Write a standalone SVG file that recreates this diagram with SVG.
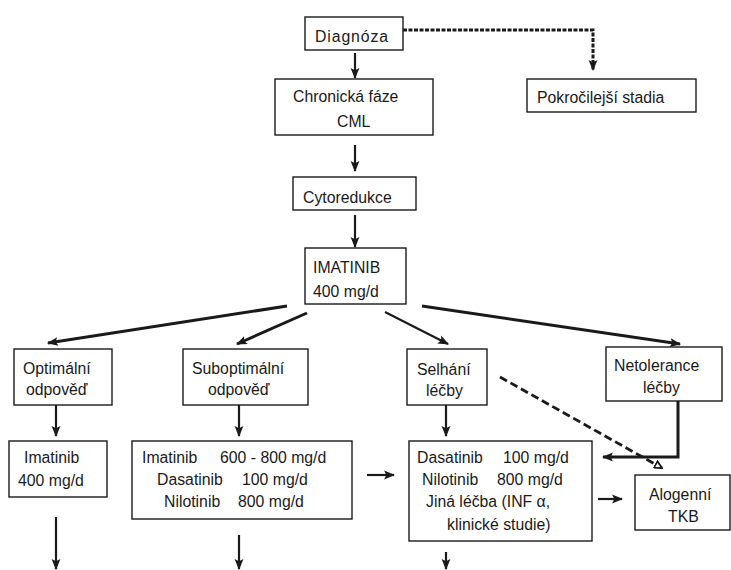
<svg xmlns="http://www.w3.org/2000/svg" width="731" height="570" viewBox="0 0 731 570">
<defs>
<style>
.box{fill:#fff;stroke:#1a1a1a;stroke-width:1.4}
text{font-family:"Liberation Sans",Arial,sans-serif;font-size:15.8px;fill:#1a1a1a}
.c{stroke:#1a1a1a;fill:none;stroke-width:2.2}
.t{stroke-width:3}
.d{stroke-dasharray:8,4;stroke-width:2.8}
.dd{stroke-dasharray:4,1.5;stroke-width:3}
</style>
<marker id="a" viewBox="0 0 10 10" refX="9" refY="5" markerWidth="11" markerHeight="11" markerUnits="userSpaceOnUse" orient="auto">
<path d="M0,1 L10,5 L0,9 L2,5 z" fill="#1a1a1a"/>
</marker>
<marker id="o" viewBox="0 0 10 10" refX="9" refY="5" markerWidth="9" markerHeight="9" markerUnits="userSpaceOnUse" orient="auto">
<path d="M1,1 L9,5 L1,9 z" fill="#fff" stroke="#1a1a1a" stroke-width="2"/>
</marker>
</defs>

<g id="connectors">
<polyline class="c dd" points="403,30 593,30 593,70" marker-end="url(#a)"/>
<line class="c" x1="355" y1="53" x2="355" y2="78" marker-end="url(#a)"/>
<line class="c" x1="355" y1="145" x2="355" y2="171" marker-end="url(#a)"/>
<line class="c" x1="355" y1="215" x2="355" y2="247" marker-end="url(#a)"/>
<line class="c t" x1="287" y1="306" x2="48" y2="343" marker-end="url(#a)"/>
<line class="c t" x1="307" y1="313" x2="237" y2="344" marker-end="url(#a)"/>
<line class="c" x1="385" y1="312" x2="448" y2="344" marker-end="url(#a)"/>
<line class="c t" x1="422" y1="306" x2="680" y2="344" marker-end="url(#a)"/>
<line class="c d" x1="500" y1="377" x2="662" y2="468" marker-end="url(#o)"/>
<polyline class="c t" points="678,401 678,457 603,457" marker-end="url(#a)"/>
<line class="c" x1="56" y1="405" x2="56" y2="436" marker-end="url(#a)"/>
<line class="c" x1="239" y1="405" x2="239" y2="436" marker-end="url(#a)"/>
<line class="c" x1="446" y1="405" x2="446" y2="436" marker-end="url(#a)"/>
<line class="c" x1="367" y1="475" x2="394" y2="475" marker-end="url(#a)"/>
<line class="c" x1="598" y1="499" x2="622" y2="499" marker-end="url(#a)"/>
<line class="c" x1="56" y1="517" x2="56" y2="569" marker-end="url(#a)"/>
<line class="c" x1="239" y1="535" x2="239" y2="569" marker-end="url(#a)"/>
<line class="c" x1="446" y1="552" x2="446" y2="569" marker-end="url(#a)"/>
</g>

<g id="diagnoza"><rect class="box" x="305" y="17" width="98" height="33"/><text x="315" y="42" letter-spacing="0.9">Diagnóza</text></g>
<g id="chronicka"><rect class="box" x="275" y="79" width="158" height="56"/><text x="293" y="102">Chronická fáze</text><text x="337" y="127">CML</text></g>
<g id="pokrocilejsi"><rect class="box" x="527" y="79" width="169" height="33"/><text x="537" y="103">Pokročilejší stadia</text></g>
<g id="cytoredukce"><rect class="box" x="293" y="177" width="123" height="33"/><text x="303" y="203">Cytoredukce</text></g>
<g id="imatinib"><rect class="box" x="305" y="248" width="101" height="56"/><text x="313" y="273">IMATINIB</text><text x="313" y="297">400 mg/d</text></g>
<g id="optimalni"><rect class="box" x="14" y="349" width="98" height="56"/><text x="23" y="374">Optimální</text><text x="26" y="395">odpověď</text></g>
<g id="suboptimalni"><rect class="box" x="183" y="349" width="125" height="56"/><text x="192" y="374">Suboptimální</text><text x="208" y="395">odpověď</text></g>
<g id="selhani"><rect class="box" x="407" y="349" width="80" height="56"/><text x="417" y="375">Selhání</text><text x="426" y="396">léčby</text></g>
<g id="netolerance"><rect class="box" x="606" y="347" width="116" height="54"/><text x="614" y="371">Netolerance</text><text x="643" y="393">léčby</text></g>
<g id="imatinib400"><rect class="box" x="9" y="441" width="98" height="56"/><text x="24" y="463">Imatinib</text><text x="18" y="486">400 mg/d</text></g>
<g id="suboptimal-therapy"><rect class="box" x="132" y="441" width="220" height="78"/>
<text x="142" y="463">Imatinib</text><text x="220" y="463">600 - 800 mg/d</text>
<text x="157" y="485">Dasatinib</text><text x="242" y="485">100 mg/d</text>
<text x="164" y="507">Nilotinib</text><text x="238" y="507">800 mg/d</text></g>
<g id="failure-therapy"><rect class="box" x="409" y="441" width="183" height="100"/>
<text x="417" y="463">Dasatinib</text><text x="503" y="463">100 mg/d</text>
<text x="422" y="485">Nilotinib</text><text x="497" y="485">800 mg/d</text>
<text x="426" y="507">Jiná léčba (INF α,</text>
<text x="447" y="530">klinické  studie)</text></g>
<g id="alogenni"><rect class="box" x="635" y="475" width="95" height="55"/><text x="649" y="500">Alogenní</text><text x="668" y="522">TKB</text></g>
</svg>
